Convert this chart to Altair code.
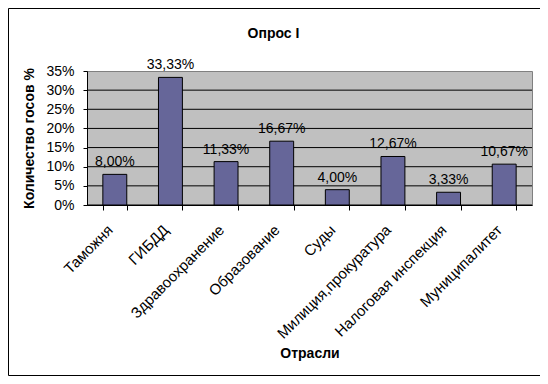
import altair as alt
import pandas as pd

categories = ["Таможня", "ГИБДД", "Здравоохранение", "Образование", "Суды",
              "Милиция,прокуратура", "Налоговая инспекция", "Муниципалитет"]
values = [8.00, 33.33, 11.33, 16.67, 4.00, 12.67, 3.33, 10.67]
y_ticks = [0, 5, 10, 15, 20, 25, 30, 35]
grid_ticks = [0, 5, 10, 15, 20, 25, 30]

FONT = "Arial, Liberation Sans, sans-serif"

df = pd.DataFrame({"cat": categories, "val": values})

y_scale = alt.Scale(domain=[0, 35], nice=False)
y_axis = alt.Axis(title="Количество госов %", values=y_ticks, tickCount=8,
                  labelExpr="datum.value + '%'", labelFont=FONT,
                  labelFontSize=14, labelColor="black", labelPadding=9,
                  labelOverlap=False,
                  tickSize=4, tickColor="black", domainColor="black",
                  grid=False, titleFont=FONT, titleFontSize=14,
                  titleFontWeight="bold", titleColor="black",
                  titleX=-58, titleBaseline="middle")

x_enc = alt.X("cat:N", sort=categories,
              scale=alt.Scale(paddingInner=0.57, paddingOuter=0.285),
              axis=alt.Axis(title="Отрасли", labelAngle=-45, labelAlign="right",
                            labelBaseline="middle", labelFont=FONT, labelFontSize=15,
                            labelColor="black", labelPadding=17, labelOffset=-5,
                            tickBand="extent", labelOverlap=False,
                            ticks=True, tickSize=5, tickColor="black",
                            domainColor="black", titleFont=FONT, titleFontSize=14,
                            titleFontWeight="bold", titleColor="black",
                            titleY=152, titleBaseline="alphabetic"))

grid = alt.Chart(pd.DataFrame({"g": grid_ticks})).mark_rule(color="black", strokeWidth=1).encode(
    y=alt.Y("g:Q", scale=y_scale, axis=y_axis)
)

bars = alt.Chart(df).mark_bar(color="#666699", stroke="black", strokeWidth=1).encode(
    x=x_enc, y=alt.Y("val:Q", scale=y_scale)
)

labels = alt.Chart(df).transform_calculate(
    lab="replace(format(datum.val, '.2f'), '.', ',') + '%'"
).mark_text(font=FONT, fontSize=14, color="black", baseline="alphabetic", dy=-8).encode(
    x=alt.X("cat:N", sort=categories), y=alt.Y("val:Q"), text="lab:N"
)

frame = alt.Chart(pd.DataFrame({"a": [0]})).mark_rect(
    fill="transparent", stroke="black", strokeWidth=1
).encode(
    x=alt.value(-78.5), x2=alt.value(453.5), y=alt.value(-62.5), y2=alt.value(304.5)
)

chart = alt.layer(grid, bars, labels, frame).properties(
    width=445, height=134,
    title=alt.TitleParams("Опрос I", font=FONT, fontSize=14, fontWeight="bold",
                          color="black", dx=-36, offset=-43.5, baseline="alphabetic"),
    autosize=alt.AutoSizeParams(type="none"),
    padding={"left": 79, "top": 63, "right": 8, "bottom": 171},
    background="white",
).configure_view(
    fill="#c0c0c0", stroke="#808080", strokeWidth=1
)

chart.save("out.html", embed_options={"renderer": "svg", "actions": False})
